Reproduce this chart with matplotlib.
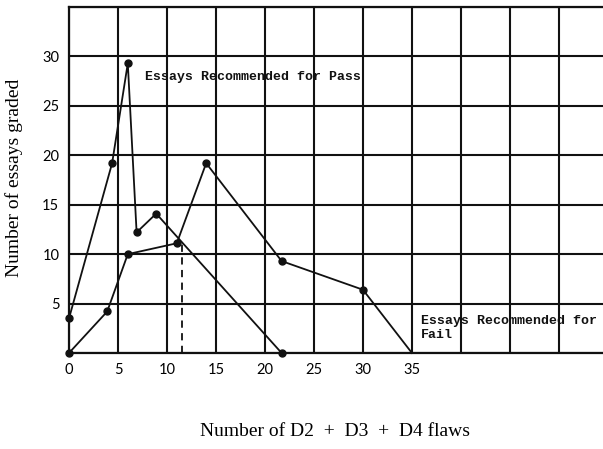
import matplotlib
matplotlib.use("Agg")
import matplotlib.pyplot as plt

# Data
pass_x = [0, 4.4, 6.0, 6.9, 8.9, 21.7]
pass_y = [3.5, 19.2, 29.3, 12.2, 14.1, 0]
fail_x = [0, 3.9, 6.0, 11.0, 14.0, 21.7, 30.0, 35.0]
fail_y = [0, 4.2, 10.0, 11.1, 19.2, 9.3, 6.4, 0]
fail_markers = [0, 1, 2, 3, 4, 5, 6]
dash_x = 11.5
dash_top = 11.0

x_ticks = [0, 5, 10, 15, 20, 25, 30, 35, 40, 45, 50]
x_labels = ["0", "5", "10", "15", "20", "25", "30", "35", "", "", ""]
y_ticks = [0, 5, 10, 15, 20, 25, 30, 35]
y_labels = ["", "5", "10", "15", "20", "25", "30", ""]

pass_label = "Essays Recommended for Pass"
fail_label = "Essays Recommended for\nFail"
x_title = "Number of D2  +  D3  +  D4 flaws"
y_title = "Number of essays graded"

fig = plt.figure(figsize=(6.03, 4.49), dpi=100)
ax = fig.add_axes([69 / 603, (449 - 353) / 449, 1 - 69 / 603, (353 - 7) / 449])
ax.set_xlim(0, 54.5)
ax.set_ylim(0, 35)

ax.set_xticks(x_ticks)
ax.set_xticklabels(x_labels, fontfamily="Lato", fontsize=10.5)
ax.set_yticks(y_ticks)
ax.set_yticklabels(y_labels, fontfamily="Lato", fontsize=10.5)
ax.tick_params(length=0, pad=7)
ax.grid(True, color="#111111", linewidth=1.5)
ax.set_axisbelow(True)
for side in ["right"]:
    ax.spines[side].set_visible(False)
for side in ["left", "bottom", "top"]:
    ax.spines[side].set_linewidth(1.6)
    ax.spines[side].set_color("#111111")

ax.plot(pass_x, pass_y, color="#111111", linewidth=1.3, marker="o", markersize=5, clip_on=False, zorder=5)
ax.plot(fail_x, fail_y, color="#111111", linewidth=1.3, marker="o", markersize=5,
        markevery=fail_markers, clip_on=False, zorder=5)
ax.plot([dash_x, dash_x], [0, dash_top], color="#111111", linewidth=1.3, linestyle=(0, (4, 3)), zorder=4)

ax.text(7.8, 27.9, pass_label, fontfamily="Liberation Mono", fontweight="bold", fontsize=9.5,
        va="center", ha="left", color="#111111", zorder=6)
ax.text(35.9, 2.5, fail_label, fontfamily="Liberation Mono", fontweight="bold", fontsize=9.5,
        va="center", ha="left", color="#111111", linespacing=1.25, zorder=6)

fig.text(335 / 603, 1 - 432 / 449, x_title, fontfamily="Liberation Serif", fontsize=14,
         ha="center", va="center")
fig.text(14 / 603, 1 - 178 / 449, y_title, fontfamily="Liberation Serif", fontsize=14,
         ha="center", va="center", rotation=90)

fig.savefig("out.png", dpi=100)
